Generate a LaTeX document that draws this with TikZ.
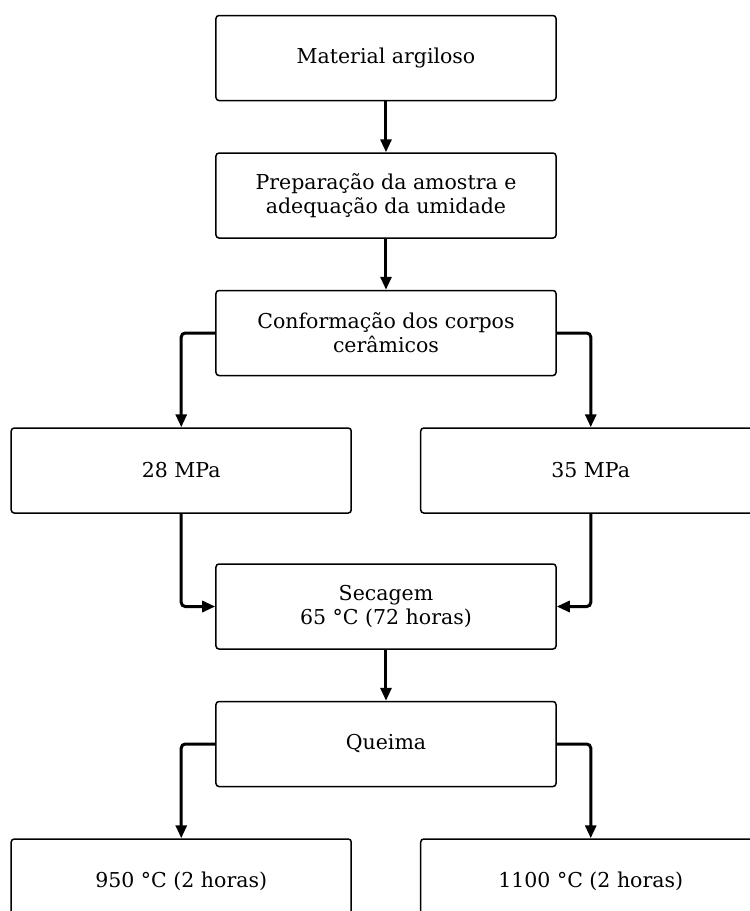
\documentclass[tikz,border=0pt]{standalone}
\usepackage{fontspec}
\setmainfont{DejaVu Serif}
\usetikzlibrary{arrows.meta,positioning}

\begin{document}
\begin{tikzpicture}[x=1pt,y=1pt,node distance=51pt, every node/.style={font=\fontsize{20.5}{24}\selectfont,align=center}, box/.style={draw,line width=1.5pt,rounded corners=3pt,minimum width=340pt,minimum height=85pt,inner sep=0pt}, arr/.style={-{Triangle[length=13pt,width=11pt]},line width=3pt,rounded corners=4pt}]
\useasboundingbox (-386,58) rectangle (364,-853);
\node[box] (mat) at (0,0) {Material argiloso};
\node[box,below=of mat] (prep) {Preparação da amostra e\\adequação da umidade};
\node[box,below=of prep] (conf) {Conformação dos corpos\\cerâmicos};
\node[box,below=51pt of conf.south west,xshift=-34pt] (p28) {28 MPa};
\node[box,below=51pt of conf.south east,xshift=34pt] (p35) {35 MPa};
\node[box,below=187pt of conf] (sec) {Secagem\\65 °C (72 horas)};
\node[box,below=of sec] (queima) {Queima};
\node[box,below=51pt of queima.south west,xshift=-34pt] (t950) {950 °C (2 horas)};
\node[box,below=51pt of queima.south east,xshift=34pt] (t1100) {1100 °C (2 horas)};
\draw[arr] (mat)--(prep);\draw[arr](prep)--(conf);\draw[arr](conf.west)-|(p28.north);\draw[arr](conf.east)-|(p35.north);
\draw[arr](p28.south)|-(sec.west);\draw[arr](p35.south)|-(sec.east);\draw[arr](sec)--(queima);
\draw[arr](queima.west)-|(t950.north);\draw[arr](queima.east)-|(t1100.north);
\end{tikzpicture}
\end{document}
